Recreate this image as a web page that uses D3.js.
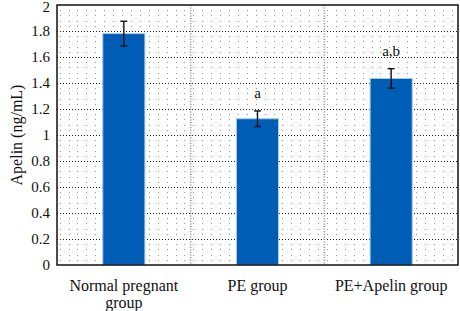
<!DOCTYPE html>
<html>
<head>
<meta charset="utf-8">
<script src="https://cdn.jsdelivr.net/npm/d3@7"></script>
<style>
  body { margin: 0; background: #fff; }
  text { font-family: "Liberation Serif", "DejaVu Serif", serif; fill: #111; }
</style>
</head>
<body>
<svg id="chart" width="460" height="311"></svg>
<script>
const groups = ["Normal pregnant group", "PE group", "PE+Apelin group"];
const groupLines = [["Normal pregnant", "group"], ["PE group"], ["PE+Apelin group"]];
const means = [1.78, 1.125, 1.435];
const errs = [0.095, 0.06, 0.075];
const marks = ["", "a", "a,b"];
const yTicks = [0, 0.2, 0.4, 0.6, 0.8, 1, 1.2, 1.4, 1.6, 1.8, 2];

const svg = d3.select("#chart");
const W = +svg.attr("width"), H = +svg.attr("height");
const m = { left: 57, top: 5, right: 2, bottom: 46 };

const x = d3.scaleBand().domain(groups).range([m.left, W - m.right]).paddingInner(0).paddingOuter(0);
const y = d3.scaleLinear().domain([0, 2]).range([H - m.bottom, m.top]);

// minor dot grid
const sub = 15;
const step = x.bandwidth() / sub;
const dotX = [];
groups.forEach(g => { for (let k = 0; k < sub; k++) dotX.push(x(g) + (k + 0.3) * step); });
const dotY = d3.range(1, 50).filter(i => i % 5 !== 0).map(i => y(i * 0.04));
const dots = [];
dotX.forEach(dx => dotY.forEach(dy => dots.push([dx, dy])));
svg.append("g").selectAll("rect")
  .data(dots)
  .join("rect")
  .attr("x", d => Math.round(d[0]))
  .attr("y", d => Math.round(d[1]))
  .attr("width", 1)
  .attr("height", 1)
  .attr("fill", "#9a9a9a");

// major horizontal grid
svg.append("g").selectAll("line")
  .data(yTicks.slice(1, -1))
  .join("line")
  .attr("x1", m.left).attr("x2", W - m.right)
  .attr("y1", d => Math.round(y(d)) + 0.5).attr("y2", d => Math.round(y(d)) + 0.5)
  .attr("stroke", "#222").attr("stroke-width", 1)
  .attr("stroke-dasharray", "1,2");

// category boundary lines
svg.append("g").selectAll("line")
  .data(groups.slice(1))
  .join("line")
  .attr("x1", d => x(d)).attr("x2", d => x(d))
  .attr("y1", m.top).attr("y2", H - m.bottom)
  .attr("stroke", "#888").attr("stroke-width", 1.6)
  .attr("stroke-dasharray", "1,1.6");

// bars
const bw = x.bandwidth() * 0.315;
svg.append("g").selectAll("rect")
  .data(groups)
  .join("rect")
  .attr("x", d => x(d) + (x.bandwidth() - bw) / 2)
  .attr("y", (d, i) => y(means[i]))
  .attr("width", bw)
  .attr("height", (d, i) => y(0) - y(means[i]))
  .attr("fill", "#005db5")
  .attr("stroke", "#a9cbe8")
  .attr("stroke-width", 1);

// error bars
const eb = svg.append("g").attr("stroke", "#111").attr("stroke-width", 1.4);
groups.forEach((g, i) => {
  const cx = x(g) + x.bandwidth() / 2;
  eb.append("line").attr("x1", cx).attr("x2", cx).attr("y1", y(means[i] + errs[i])).attr("y2", y(means[i] - errs[i]));
  eb.append("line").attr("x1", cx - 3.5).attr("x2", cx + 3.5).attr("y1", y(means[i] + errs[i])).attr("y2", y(means[i] + errs[i]));
  eb.append("line").attr("x1", cx - 3.5).attr("x2", cx + 3.5).attr("y1", y(means[i] - errs[i])).attr("y2", y(means[i] - errs[i]));
});

// significance marks
svg.append("g").selectAll("text")
  .data(groups)
  .join("text")
  .attr("x", d => x(d) + x.bandwidth() / 2)
  .attr("y", (d, i) => y(means[i] + errs[i]) - 13)
  .attr("text-anchor", "middle")
  .attr("font-size", 15)
  .text((d, i) => marks[i]);

// frame
svg.append("rect")
  .attr("x", m.left).attr("y", m.top)
  .attr("width", W - m.left - m.right).attr("height", H - m.top - m.bottom)
  .attr("fill", "none").attr("stroke", "#111").attr("stroke-width", 1.5);

// y axis
const yAxis = svg.append("g")
  .attr("transform", `translate(${m.left},0)`)
  .call(d3.axisLeft(y).tickValues(yTicks).tickSize(0).tickPadding(7).tickFormat(d3.format("~g")));
yAxis.select(".domain").remove();
yAxis.selectAll("text")
  .attr("font-size", 15)
  .attr("fill", "#111")
  .attr("dy", d => d === 2 ? "0.42em" : "0.32em");

// x labels
const xl = svg.append("g").selectAll("text")
  .data(groups)
  .join("text")
  .attr("x", d => x(d) + x.bandwidth() / 2)
  .attr("y", H - m.bottom + 26)
  .attr("text-anchor", "middle")
  .attr("font-size", 16);
xl.selectAll("tspan")
  .data((d, i) => groupLines[i])
  .join("tspan")
  .attr("x", function () { return this.parentNode.getAttribute("x"); })
  .attr("dy", (d, i) => i === 0 ? 0 : 17)
  .text(d => d);

// y label
svg.append("text")
  .attr("transform", `translate(22,${(m.top + H - m.bottom) / 2}) rotate(-90)`)
  .attr("text-anchor", "middle")
  .attr("font-size", 16)
  .text("Apelin (ng/mL)");
</script>
</body>
</html>
